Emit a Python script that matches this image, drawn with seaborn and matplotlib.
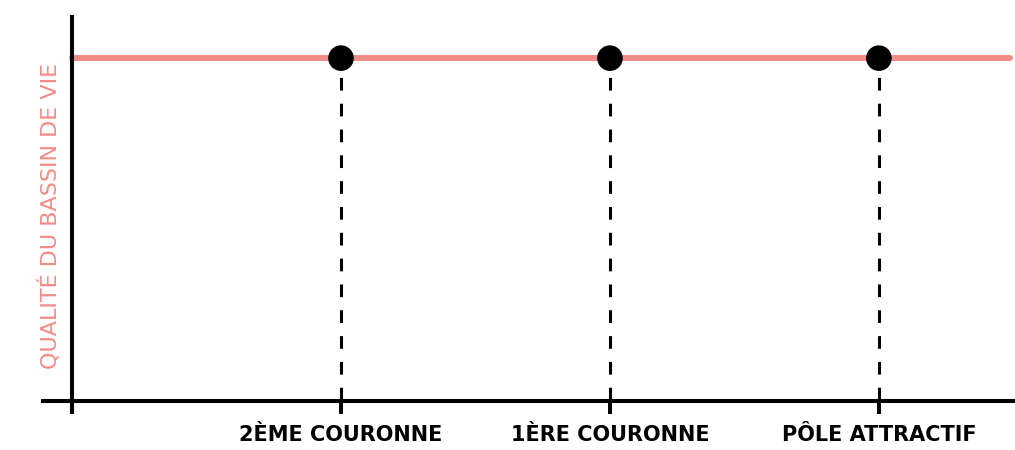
import matplotlib
matplotlib.use("Agg")
import matplotlib.pyplot as plt
import seaborn as sns
import pandas as pd

# data
zones = ["2ÈME COURONNE", "1ÈRE COURONNE", "PÔLE ATTRACTIF"]
zone_pos = [1, 2, 3]
quality = [1.0, 1.0, 1.0]
ylabel = "QUALITÉ DU BASSIN DE VIE"

salmon = "#F28C87"

df = pd.DataFrame({"zone": zones, "pos": zone_pos, "quality": quality})

sns.set_style("white")
plt.rcParams["font.family"] = ["DejaVu Sans"]

fig = plt.figure(figsize=(10.15, 4.5), dpi=100)
ax = fig.add_axes([43 / 1015, 49 / 450, 972 / 1015, 384 / 450])

ax.set_xlim(-0.108, 3.506)
ax.set_ylim(0, 1.12)

# horizontal quality line from the y axis to the right edge
x0, x1 = ax.get_xlim()
ax.axhline(quality[0], xmin=(0 - x0) / (x1 - x0), xmax=0.995,
           color=salmon, lw=4.3, zorder=1)

# dashed drops, drawn top-down so the dashes line up under the dots
ax.vlines(df["pos"], df["quality"], 0, colors="black", lw=2.2,
          linestyles=(2.1, (4.15, 4.3)), zorder=2)

sns.scatterplot(data=df, x="pos", y="quality", ax=ax, color="black",
                s=340, edgecolor="none", zorder=3)

# axes
for s in ["top", "right"]:
    ax.spines[s].set_visible(False)
ax.spines["left"].set_position(("data", 0))
for s in ["left", "bottom"]:
    ax.spines[s].set_linewidth(2.9)
    ax.spines[s].set_color("black")

ax.set_xticks([0] + zone_pos)
ax.set_xticklabels([""] + zones, fontsize=15, fontweight="bold", color="black")
ax.tick_params(axis="x", length=9, width=2.9, direction="out", pad=8,
               color="black", bottom=True)
ax.set_yticks([])
ax.set_xlabel("")
ax.set_ylabel(ylabel, color=salmon, fontsize=16)
ax.yaxis.set_label_coords(0.0175, 0.482)

fig.savefig("out.png", dpi=100)
